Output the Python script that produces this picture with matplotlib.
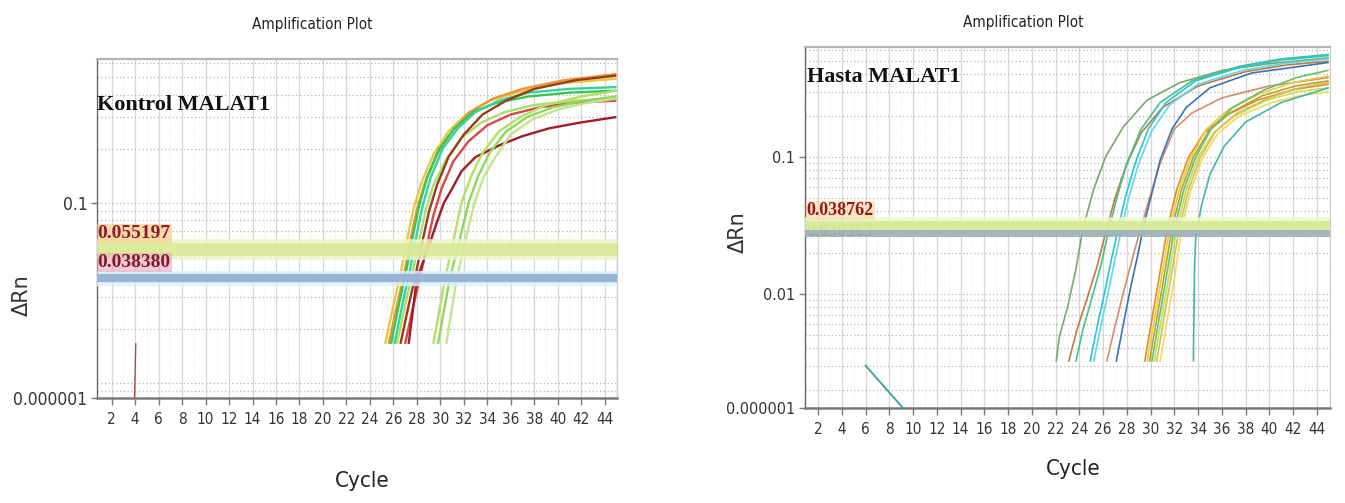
import matplotlib
matplotlib.use("Agg")
import matplotlib.pyplot as plt
import matplotlib.transforms as mtransforms
import numpy as np
from matplotlib.ticker import LogLocator, NullFormatter

NARROW = ['Liberation Sans Narrow', 'DejaVu Sans']
SERIF = ['Liberation Serif', 'DejaVu Serif']

# ---- x axis ---- #
cycle_ticks = list(range(2, 45, 2))

# ---- Kontrol MALAT1 (left) ---- #
kontrol_thresholds = [0.055197, 0.038380]
kontrol_threshold_labels = ['0.055197', '0.038380']
kontrol_yticks = [0.00826, 0.1]
kontrol_ytick_labels = ['0.000001', '0.1']
kontrol_cycles = [
    [25.3, 26.0, 26.6, 27.1, 27.7, 28.4, 29.4, 30.7, 32.2, 34.2, 36.5, 40.0, 45.0],
    [25.6, 26.3, 26.9, 27.4, 28.0, 28.7, 29.7, 31.0, 32.5, 34.5, 37.0, 40.5, 45.0],
    [25.8, 26.5, 27.1, 27.6, 28.2, 28.9, 29.9, 31.2, 32.8, 34.8, 37.5, 41.0, 45.0],
    [26.1, 26.8, 27.4, 27.9, 28.5, 29.2, 30.2, 31.5, 33.0, 35.0, 37.5, 41.0, 45.0],
    [26.3, 27.0, 27.6, 28.1, 28.7, 29.4, 30.5, 31.8, 33.5, 35.5, 38.0, 41.5, 45.0],
    [26.6, 27.3, 27.9, 28.4, 29.0, 29.7, 30.7, 32.0, 33.6, 35.6, 38.0, 41.5, 45.0],
    [27.0, 27.7, 28.3, 28.8, 29.4, 30.1, 31.1, 32.4, 34.0, 36.0, 38.5, 41.5, 45.0],
    [27.3, 28.0, 29.0, 29.7, 30.3, 31.0, 31.8, 33.0, 35.1, 37.0, 39.3, 42.0, 45.0],
    [29.4, 30.4, 31.0, 31.8, 32.6, 33.6, 35.0, 36.8, 39.0, 42.0, 45.0],
    [29.8, 30.8, 31.5, 32.4, 33.2, 34.2, 35.6, 37.4, 39.6, 42.3, 45.0],
    [30.5, 31.4, 32.0, 32.9, 33.7, 34.7, 36.0, 37.8, 40.0, 42.5, 45.0],
]
kontrol_drn = [
    [0.0165, 0.027, 0.040, 0.060, 0.092, 0.13, 0.185, 0.25, 0.31, 0.37, 0.41, 0.46, 0.49],
    [0.0165, 0.027, 0.040, 0.060, 0.092, 0.13, 0.185, 0.25, 0.32, 0.38, 0.43, 0.48, 0.52],
    [0.0165, 0.028, 0.042, 0.063, 0.097, 0.14, 0.20, 0.26, 0.32, 0.36, 0.39, 0.41, 0.42],
    [0.0165, 0.028, 0.042, 0.063, 0.097, 0.14, 0.20, 0.26, 0.32, 0.37, 0.41, 0.43, 0.44],
    [0.0165, 0.027, 0.040, 0.058, 0.088, 0.125, 0.175, 0.23, 0.28, 0.32, 0.35, 0.37, 0.38],
    [0.0165, 0.027, 0.040, 0.058, 0.088, 0.125, 0.18, 0.24, 0.31, 0.37, 0.43, 0.48, 0.51],
    [0.0165, 0.027, 0.039, 0.056, 0.085, 0.12, 0.17, 0.22, 0.27, 0.31, 0.34, 0.36, 0.37],
    [0.0165, 0.038, 0.057, 0.078, 0.10, 0.12, 0.15, 0.18, 0.21, 0.235, 0.26, 0.28, 0.30],
    [0.0165, 0.038, 0.057, 0.10, 0.14, 0.19, 0.25, 0.30, 0.35, 0.39, 0.42],
    [0.0165, 0.038, 0.057, 0.10, 0.14, 0.19, 0.25, 0.30, 0.34, 0.37, 0.39],
    [0.0165, 0.038, 0.057, 0.10, 0.14, 0.18, 0.24, 0.29, 0.33, 0.36, 0.38],
]
kontrol_colors = ['#e8c840', '#e8963a', '#3cc450', '#30d49c', '#a6e070', '#9c3a18',
                  '#d84848', '#a01c28', '#b4e064', '#8cd85c', '#c4e48c']
kontrol_spike_cycles = [3.95, 4.05]
kontrol_spike_drn = [0.00826, 0.0165]

# ---- Hasta MALAT1 (right) ---- #
hasta_thresholds = [0.0319, 0.0279]
hasta_threshold_labels = ['0.038762', '0.030363']
hasta_yticks = [0.00147, 0.01, 0.1]
hasta_ytick_labels = ['0.000001', '0.01', '0.1']
hasta_cycles = [
    [22.05, 22.3, 23.0, 23.7, 24.3, 25.2, 26.2, 27.7, 29.7, 32.5, 36.1, 40.0, 45.0],
    [23.1, 23.8, 24.6, 25.5, 26.3, 27.0, 27.9, 29.2, 31.0, 34.0, 38.0, 41.5, 45.0],
    [23.7, 24.3, 25.0, 25.8, 26.5, 27.2, 28.0, 29.2, 30.8, 33.5, 37.5, 41.0, 45.0],
    [24.9, 25.5, 26.1, 26.7, 27.3, 27.9, 28.7, 29.8, 31.3, 33.8, 37.5, 41.0, 45.0],
    [25.2, 25.8, 26.4, 27.0, 27.6, 28.2, 29.0, 30.1, 31.6, 34.0, 37.8, 41.2, 45.0],
    [26.3, 27.0, 27.8, 28.6, 29.2, 29.9, 30.8, 32.0, 33.5, 36.0, 40.0, 45.0],
    [27.1, 27.7, 28.3, 28.9, 29.4, 30.0, 30.8, 31.8, 33.0, 35.0, 38.5, 45.0],
    [29.5, 30.1, 30.7, 31.4, 32.2, 33.2, 34.5, 36.3, 39.0, 42.0, 45.0],
    [29.7, 30.3, 30.9, 31.6, 32.4, 33.4, 34.7, 36.5, 39.2, 42.0, 45.0],
    [29.9, 30.5, 31.1, 31.8, 32.6, 33.6, 34.9, 36.7, 39.4, 42.2, 45.0],
    [30.1, 30.7, 31.3, 32.0, 32.8, 33.8, 35.1, 36.9, 39.6, 42.3, 45.0],
    [30.3, 30.9, 31.5, 32.2, 33.0, 34.0, 35.3, 37.1, 39.8, 42.4, 45.0],
    [30.5, 31.1, 31.7, 32.4, 33.2, 34.2, 35.5, 37.3, 40.0, 42.5, 45.0],
    [30.8, 31.4, 32.0, 32.6, 33.4, 34.4, 35.7, 37.5, 40.2, 42.6, 45.0],
    [33.6, 33.65, 33.7, 33.8, 34.3, 35.0, 36.2, 38.0, 41.0, 45.0],
]
hasta_drn = [
    [0.0032, 0.0048, 0.008, 0.015, 0.030, 0.058, 0.10, 0.166, 0.26, 0.35, 0.43, 0.48, 0.53],
    [0.0032, 0.0055, 0.009, 0.016, 0.030, 0.050, 0.085, 0.15, 0.23, 0.33, 0.42, 0.47, 0.50],
    [0.0032, 0.0055, 0.009, 0.016, 0.030, 0.052, 0.090, 0.16, 0.25, 0.36, 0.46, 0.52, 0.56],
    [0.0032, 0.0058, 0.010, 0.018, 0.031, 0.052, 0.090, 0.16, 0.25, 0.36, 0.45, 0.51, 0.55],
    [0.0032, 0.0058, 0.010, 0.018, 0.031, 0.052, 0.090, 0.155, 0.24, 0.34, 0.43, 0.48, 0.52],
    [0.0032, 0.0058, 0.011, 0.020, 0.031, 0.050, 0.090, 0.16, 0.21, 0.27, 0.33, 0.38],
    [0.0032, 0.0060, 0.011, 0.019, 0.031, 0.050, 0.095, 0.16, 0.23, 0.32, 0.41, 0.49],
    [0.0032, 0.0065, 0.013, 0.030, 0.058, 0.10, 0.15, 0.20, 0.26, 0.31, 0.34],
    [0.0032, 0.0065, 0.013, 0.030, 0.058, 0.10, 0.16, 0.22, 0.29, 0.35, 0.39],
    [0.0032, 0.0065, 0.013, 0.030, 0.058, 0.10, 0.155, 0.21, 0.28, 0.33, 0.36],
    [0.0032, 0.0065, 0.013, 0.030, 0.058, 0.10, 0.16, 0.23, 0.31, 0.38, 0.43],
    [0.0032, 0.0065, 0.013, 0.030, 0.058, 0.10, 0.15, 0.20, 0.26, 0.30, 0.32],
    [0.0032, 0.0065, 0.013, 0.030, 0.058, 0.10, 0.155, 0.21, 0.27, 0.32, 0.35],
    [0.0032, 0.0065, 0.013, 0.030, 0.058, 0.10, 0.15, 0.20, 0.25, 0.28, 0.30],
    [0.0032, 0.008, 0.016, 0.026, 0.045, 0.075, 0.12, 0.18, 0.25, 0.32],
]
hasta_colors = ['#78a86c', '#c07848', '#44c08c', '#2cc4d4', '#64d8e4', '#d88c68', '#3a74b4',
                '#e08c28', '#e8cc3c', '#b4a42c', '#64c070', '#c4e04c', '#d4bc64', '#ecdc58',
                '#44b4ac']
hasta_spike_cycles = [6.0, 9.15]
hasta_spike_drn = [0.0030, 0.00147]


def style_axes(ax, ylim, xlim, yticks, ylabels, ysize):
    ax.set_yscale('log')
    ax.set_ylim(*ylim)
    ax.set_xlim(*xlim)
    ax.set_xticks(cycle_ticks)
    ax.set_xticks(range(1, 46), minor=True)
    ax.set_yticks(yticks, labels=ylabels)
    ax.yaxis.set_minor_locator(LogLocator(base=10, subs=np.arange(1, 10) * 1.0, numticks=30))
    ax.yaxis.set_minor_formatter(NullFormatter())
    ax.grid(which='major', axis='x', color='#d6d6d6', lw=0.9)
    ax.grid(which='minor', axis='x', color='#e6e6e6', lw=0.6, ls=':')
    ax.grid(which='both', axis='y', color='#b4b4b4', lw=0.9, ls=(0, (1, 2)))
    ax.set_axisbelow(True)
    ax.tick_params(axis='x', which='major', direction='out', length=5, width=1,
                   color='#777777', labelcolor='#333333', labelsize=11, pad=5)
    ax.tick_params(axis='y', which='major', direction='out', length=4, width=1,
                   color='#777777', labelcolor='#333333', labelsize=ysize, pad=3)
    ax.tick_params(which='minor', length=0)
    for lab in ax.get_xticklabels() + ax.get_yticklabels():
        lab.set_family(NARROW)
        lab.set_stretch('condensed')
    ax.spines['bottom'].set_color('#7a7a7a')
    ax.spines['bottom'].set_linewidth(1.8)
    ax.spines['left'].set_color('#666666')
    ax.spines['left'].set_linewidth(1.0)
    ax.spines['top'].set_color('#b4b4b4')
    ax.spines['top'].set_linewidth(1.6)
    ax.spines['right'].set_color('#c8c8c8')
    ax.spines['right'].set_linewidth(0.8)


fig = plt.figure(figsize=(13.45, 5.03), dpi=100)
W, H = 1345, 503
axL = fig.add_axes([97 / W, 1 - 398 / H, 520 / W, 339 / H])
axR = fig.add_axes([805 / W, 1 - 408 / H, 525 / W, 361 / H])

style_axes(axL, (0.00826, 0.63), (0.75, 45.05), kontrol_yticks, kontrol_ytick_labels, 12.5)
style_axes(axR, (0.00147, 0.635), (0.9, 45.1), hasta_yticks, hasta_ytick_labels, 11.5)

# ---- curves ---- #
for cyc, drn, col in zip(kontrol_cycles, kontrol_drn, kontrol_colors):
    axL.plot(cyc, drn, color=col, lw=1.7, zorder=2, solid_capstyle='butt')
axL.plot(kontrol_spike_cycles, kontrol_spike_drn, color='#b04848', lw=1.0, zorder=2)

for cyc, drn, col in zip(hasta_cycles, hasta_drn, hasta_colors):
    axR.plot(cyc, drn, color=col, lw=1.2, zorder=2, solid_capstyle='butt')
axR.plot(hasta_spike_cycles, hasta_spike_drn, color='#3aa89c', lw=1.4, zorder=2)

# ---- threshold bands ---- #
axL.axhline(kontrol_thresholds[0], color='#eef6cc', lw=15, alpha=0.8, zorder=3)
axL.axhline(kontrol_thresholds[0], color='#d6e78e', lw=9, alpha=0.8, zorder=3)
axL.axhline(kontrol_thresholds[1], color='#d8f2f8', lw=11, alpha=0.8, zorder=3)
axL.axhline(kontrol_thresholds[1], color='#98b0d6', lw=6, alpha=0.95, zorder=3)

axR.axhline(hasta_thresholds[0], color='#eef8c8', lw=12, alpha=0.8, zorder=3)
axR.axhline(hasta_thresholds[0], color='#d2e996', lw=6.5, alpha=0.85, zorder=3)
axR.axhline(hasta_thresholds[1], color='#9ab0b6', lw=5, alpha=0.9, zorder=3)

# ---- threshold labels ---- #
transL = mtransforms.blended_transform_factory(axL.transAxes, axL.transData)
axL.text(0.001, 0.068, kontrol_threshold_labels[0], transform=transL, ha='left', va='center',
         family=SERIF, fontsize=14, fontweight='bold', color='#8e1a2a', zorder=6,
         bbox=dict(boxstyle='square,pad=0.05', fc='#f6c676', ec='none', alpha=0.6))
axL.text(0.001, 0.0465, kontrol_threshold_labels[1], transform=transL, ha='left', va='center',
         family=SERIF, fontsize=14, fontweight='bold', color='#801a2e', zorder=6,
         bbox=dict(boxstyle='square,pad=0.05', fc='#eaa6b8', ec='none', alpha=0.6))

transR = mtransforms.blended_transform_factory(axR.transAxes, axR.transData)
axR.text(0.003, 0.0285, hasta_threshold_labels[1], transform=transR, ha='left', va='center',
         family=SERIF, fontsize=13, fontweight='bold', color='#3a2a20', zorder=2.5)
axR.text(0.003, 0.0405, hasta_threshold_labels[0], transform=transR, ha='left', va='center',
         family=SERIF, fontsize=13, fontweight='bold', color='#981818', zorder=6,
         bbox=dict(boxstyle='square,pad=0.05', fc='#f8d090', ec='none', alpha=0.5))

# ---- panel names ---- #
axL.text(0.0, 0.865, 'Kontrol MALAT1', transform=axL.transAxes, ha='left', va='center',
         family=SERIF, fontweight='bold', fontsize=16, color='#111111', zorder=6)
axR.text(0.004, 0.917, 'Hasta MALAT1', transform=axR.transAxes, ha='left', va='center',
         family=SERIF, fontweight='bold', fontsize=16, color='#111111', zorder=6)

# ---- titles and axis labels ---- #
fig.text(312 / W, 1 - 25 / H, 'Amplification Plot', ha='center', va='center',
         family=NARROW, stretch='condensed', fontsize=11, color='#222222')
fig.text(1023 / W, 1 - 23 / H, 'Amplification Plot', ha='center', va='center',
         family=NARROW, stretch='condensed', fontsize=11, color='#222222')
fig.text(362 / W, 1 - 481 / H, 'Cycle', ha='center', va='center',
         family=NARROW, stretch='condensed', fontsize=16, color='#222222')
fig.text(1073 / W, 1 - 469 / H, 'Cycle', ha='center', va='center',
         family=NARROW, stretch='condensed', fontsize=16, color='#222222')
fig.text(22 / W, 1 - 295 / H, 'ΔRn', ha='center', va='center', rotation=90,
         family=['DejaVu Sans'], fontsize=15, color='#333333')
fig.text(738 / W, 1 - 232 / H, 'ΔRn', ha='center', va='center', rotation=90,
         family=['DejaVu Sans'], fontsize=15, color='#333333')

fig.savefig('out.png', dpi=100)
